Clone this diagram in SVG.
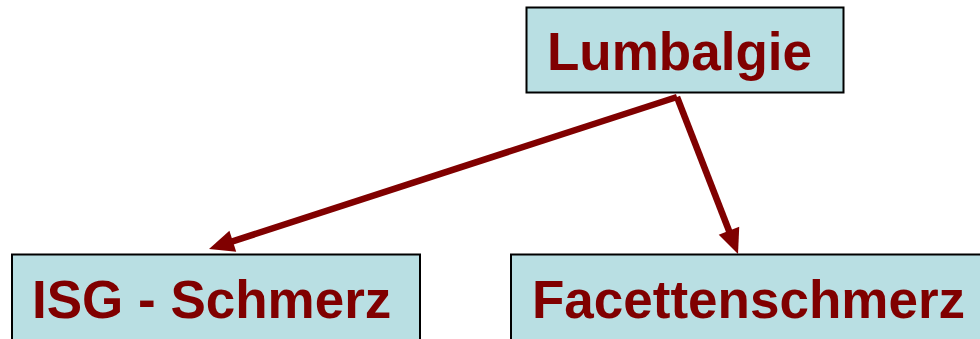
<svg xmlns="http://www.w3.org/2000/svg" width="980" height="339" viewBox="0 0 980 339">
<style>
.box{fill:#B9DFE3;stroke:#000;stroke-width:2}
.lbl{font-family:"Liberation Sans",Arial,sans-serif;font-weight:bold;font-size:53px;fill:#800000}
.arr{fill:none;stroke:#800000;stroke-width:6.5;stroke-linejoin:miter}
</style>
<defs>
<marker id="ah" markerUnits="userSpaceOnUse" markerWidth="25" markerHeight="22" refX="10" refY="11" orient="auto" overflow="visible">
<path d="M0,0 L25,11 L0,22 z" fill="#800000"/>
</marker>
</defs>
<g id="connectors">
<path class="arr" d="M677,97 L223.3,244.4" marker-end="url(#ah)"/>
<path class="arr" d="M677,97 L732.6,240" marker-end="url(#ah)"/>
</g>
<g id="lumbalgie">
<rect class="box" x="526.5" y="7.5" width="317" height="85"/>
<text class="lbl" x="547" y="70">Lumbalgie</text>
</g>
<g id="isg">
<rect class="box" x="12" y="254.5" width="408" height="100"/>
<text class="lbl" x="32" y="318">ISG - Schmerz</text>
</g>
<g id="facetten">
<rect class="box" x="511" y="254.5" width="480" height="100"/>
<text class="lbl" x="532" y="318">Facettenschmerz</text>
</g>
</svg>
